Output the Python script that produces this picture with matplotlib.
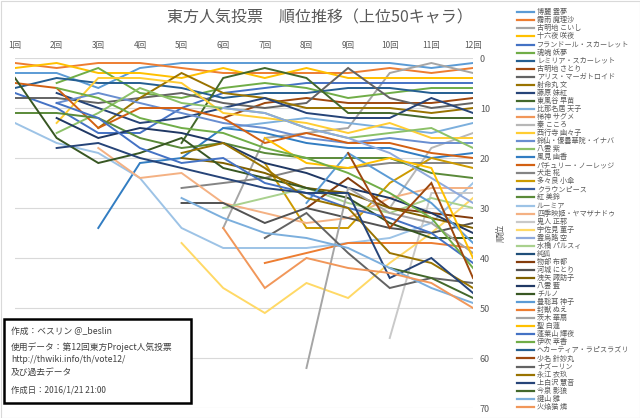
import numpy as np
import matplotlib
matplotlib.use("Agg")
import matplotlib.pyplot as plt
from matplotlib.lines import Line2D
from matplotlib.patches import Rectangle

plt.rcParams["font.family"] = ["Noto Sans CJK JP", "DejaVu Sans"]

nan = np.nan

ROUNDS = [f"{i}回" for i in range(1, 13)]

NAMES = [
    "博麗 霊夢", "霧雨 魔理沙", "古明地 こいし", "十六夜 咲夜", "フランドール・スカーレット",
    "魂魄 妖夢", "レミリア・スカーレット", "古明地 さとり", "アリス・マーガトロイド", "射命丸 文",
    "藤原 妹紅", "東風谷 早苗", "比那名居 天子", "稀神 サグメ", "秦 こころ",
    "西行寺 幽々子", "鈴仙・優曇華院・イナバ", "八雲 紫", "風見 幽香", "パチュリー・ノーレッジ",
    "犬走 椛", "多々良 小傘", "クラウンピース", "紅 美鈴", "ルーミア",
    "四季映姫・ヤマザナドゥ", "鬼人 正邪", "宇佐見 菫子", "霊烏路 空", "水橋 パルスィ",
    "純狐", "物部 布都", "河城 にとり", "洩矢 諏訪子", "八雲 藍",
    "チルノ", "豊聡耳 神子", "封獣 ぬえ", "茨木 華扇", "聖 白蓮",
    "蓬莱山 輝夜", "伊吹 萃香", "ヘカーティア・ラピスラズリ", "少名 針妙丸", "ナズーリン",
    "永江 衣玖", "上白沢 慧音", "今泉 影狼", "鍵山 雛", "火焔猫 燐",
]

# ranks per round (1..12), nan = not in the vote / not shown
ranks_01_10 = [
    [3, 3, 6, 2, 1, 1, 1, 1, 1, 1, 2, 1],
    [1, 2, 1, 1, 2, 3, 3, 3, 3, 2, 3, 2],
    [nan, nan, nan, nan, nan, 34, 16, 15, 14, 3, 1, 3],
    [2, 1, 3, 3, 4, 2, 4, 2, 4, 4, 4, 4],
    [7, 10, 15, 15, 10, 7, 6, 5, 5, 5, 5, 5],
    [nan, 5, 2, 7, 8, 6, 5, 6, 8, 7, 6, 6],
    [6, 4, 5, 5, 6, 8, 7, 7, 6, 6, 7, 7],
    [nan, nan, nan, nan, nan, 12, 9, 8, 9, 9, 9, 8],
    [8, 8, 9, 8, 7, 9, 10, 9, 2, 8, 10, 9],
    [nan, nan, 14, 8, 3, 7, 8, 10, 10, 10, 11, 10],
]
ranks_11_20 = [
    [nan, 7, 10, 13, 12, 10, 8, 11, 12, 12, 8, 11],
    [nan, nan, nan, nan, 17, 4, 2, 4, 11, 11, 12, 12],
    [nan, nan, nan, nan, nan, 14, 13, 12, 13, 14, 15, 13],
    [nan, nan, nan, nan, nan, nan, nan, nan, nan, nan, nan, 14],
    [nan, nan, nan, nan, nan, nan, nan, nan, nan, 30, 18, 15],
    [nan, 13, 4, 4, 5, 11, 12, 13, 15, 13, 16, 16],
    [nan, 9, 7, 9, 11, 13, 14, 16, 17, 16, 17, 17],
    [nan, 15, 11, 6, 9, 10, 11, 14, 16, 15, 14, 18],
    [nan, nan, 34, 21, 20, 14, 15, 17, 18, 18, 20, 19],
    [5, 6, 14, 10, 10, 12, 17, 15, 17, 17, 19, 20],
]
ranks_21_30 = [
    [nan, nan, nan, nan, 26, 25, 24, 22, 22, 21, 21, 21],
    [nan, nan, nan, nan, nan, nan, 21, 34, 34, 25, 20, 22],
    [nan, nan, nan, nan, nan, nan, nan, nan, nan, nan, nan, 23],
    [11, 11, 12, 16, 18, 17, 19, 20, 20, 20, 23, 24],
    [13, 17, 19, 24, 34, 38, 38, 38, 37, 36, 33, 25],
    [nan, nan, 18, 24, 23, 29, 31, 33, 32, 28, 26, 26],
    [nan, nan, nan, nan, nan, nan, nan, nan, nan, 56, 27, 27],
    [nan, nan, nan, nan, 37, 46, 51, 45, 48, 41, 35, 28],
    [nan, nan, nan, nan, nan, 10, 11, 14, 16, 19, 24, 29],
    [nan, nan, nan, nan, nan, 30, 28, 26, 29, 31, 28, 30],
]
ranks_31_40 = [
    [nan, nan, nan, nan, nan, nan, nan, nan, nan, nan, nan, 31],
    [nan, nan, nan, nan, nan, nan, nan, 30, 24, 30, 31, 32],
    [nan, nan, nan, nan, 29, 29, 33, 30, 32, 34, 35, 33],
    [nan, nan, nan, nan, 20, 21, 23, 26, 27, 30, 32, 34],
    [nan, 12, 16, 14, 15, 17, 21, 23, 26, 28, 31, 35],
    [4, 16, 21, 19, 16, 22, 24, 26, 28, 33, 36, 36],
    [nan, nan, nan, nan, nan, nan, nan, 29, 19, 24, 29, 37],
    [nan, nan, nan, nan, nan, nan, 41, 39, 37, 37, 37, 38],
    [nan, nan, nan, nan, nan, nan, nan, 62, 26, 31, 33, 39],
    [nan, nan, nan, nan, nan, nan, 16, 21, 22, 20, 22, 40],
]
ranks_41_50 = [
    [nan, 9, 12, 18, 21, 20, 25, 27, 30, 32, 35, 41],
    [nan, 6, 8, 12, 14, 15, 18, 20, 23, 27, 32, 42],
    [nan, nan, nan, nan, nan, nan, nan, nan, nan, nan, nan, 43],
    [nan, nan, nan, nan, nan, nan, nan, nan, 19, 34, 25, 44],
    [nan, nan, nan, nan, nan, nan, 36, 31, 39, 46, 44, 45],
    [nan, nan, nan, nan, 19, 17, 22, 28, 30, 39, 41, 46],
    [nan, 18, 17, 20, 22, 24, 26, 27, 27, 44, 40, 47],
    [nan, nan, nan, nan, nan, nan, nan, nan, nan, 42, 44, 48],
    [nan, nan, nan, nan, 28, 32, 35, 36, 38, 42, 46, 49],
    [nan, nan, nan, nan, nan, 34, 46, 40, 42, 43, 45, 50],
]

all_ranks = ranks_01_10 + ranks_11_20 + ranks_21_30 + ranks_31_40 + ranks_41_50

# excel 2013 style palette: 6 accents x (base, dark50, light40, dark25, light60, darker)
base = ["#5B9BD5", "#ED7D31", "#A5A5A5", "#FFC000", "#4472C4", "#70AD47"]
dark1 = ["#255E91", "#9E480E", "#636363", "#997300", "#264478", "#43682B"]
light1 = ["#7CAFDD", "#F1975A", "#B7B7B7", "#FFCD33", "#698ED0", "#8CC168"]
dark2 = ["#327DC2", "#D26012", "#848484", "#CC9A00", "#3A5FA0", "#5A8A39"]
light2 = ["#9DC3E6", "#F4B183", "#C9C9C9", "#FFD966", "#8FAADC", "#A9D18E"]
dark3 = ["#1F4E79", "#843C0C", "#525252", "#7F6000", "#203864", "#385723"]
palette = base + dark1 + light1 + dark2 + light2 + dark3
colors = [palette[i % len(palette)] for i in range(len(NAMES))]

TXT = "#595959"
W, H = 640, 418

fig = plt.figure(figsize=(W / 100, H / 100), dpi=100)
fig.patch.set_facecolor("white")

ax = fig.add_axes([15 / W, 1 - 408 / H, 458 / W, 350 / H])
x = np.arange(1, 13)
for r, c in zip(all_ranks, colors):
    ax.plot(x, r, color=c, lw=1.4, solid_joinstyle="miter", clip_on=True)

ax.set_xlim(1, 12)
ax.set_ylim(70, 0)
ax.set_yticks(range(0, 71, 10))
ax.set_xticks(x)
ax.set_xticklabels(ROUNDS)
ax.xaxis.tick_top()
ax.yaxis.tick_right()
ax.tick_params(axis="x", length=0, pad=6, labelsize=6, labelcolor=TXT)
ax.tick_params(axis="y", length=0, pad=5, labelsize=6.5, labelcolor=TXT)
ax.grid(axis="y", color="#D9D9D9", lw=0.8)
ax.set_axisbelow(True)
for s in ax.spines.values():
    s.set_visible(False)
ax.set_ylabel("順位", color=TXT, fontsize=6.5, rotation=90, labelpad=5)
ax.yaxis.set_label_position("right")

fig.text(320 / W, 1 - 18 / H, "東方人気投票　順位推移（上位50キャラ）",
         ha="center", va="center", fontsize=11.5, color=TXT)

# legend, drawn by hand so rows fit the tight spacing
y0, dy = 12.3, 8.05
for i, (name, c) in enumerate(zip(NAMES, colors)):
    yy = 1 - (y0 + i * dy) / H
    fig.add_artist(Line2D([517 / W, 534 / W], [yy, yy], color=c, lw=1.6,
                          transform=fig.transFigure))
    fig.text(537 / W, yy, name, ha="left", va="center", fontsize=5.1, color=TXT)

# credit box
box = Rectangle((4 / W, 1 - 403 / H), 187 / W, 84 / H, transform=fig.transFigure,
                facecolor="white", edgecolor="black", lw=1.8, zorder=5)
fig.add_artist(box)
lines = [
    (331, "作成：ベスリン @_beslin", 6.3),
    (347, "使用データ：第12回東方Project人気投票", 6.3),
    (360, "http://thwiki.info/th/vote12/", 6.2),
    (372, "及び過去データ", 6.3),
    (390, "作成日：2016/1/21 21:00", 6.0),
]
for yy, t, fs in lines:
    fig.text(11 / W, 1 - yy / H, t, ha="left", va="center", fontsize=fs,
             color="#404040", zorder=6)

# faint frame round the chart
fig.add_artist(Rectangle((0.5 / W, 0.5 / H), (W - 1) / W, (H - 1) / H,
                         transform=fig.transFigure, fill=False,
                         edgecolor="#D9D9D9", lw=0.8))

fig.savefig("out.png", dpi=100)
